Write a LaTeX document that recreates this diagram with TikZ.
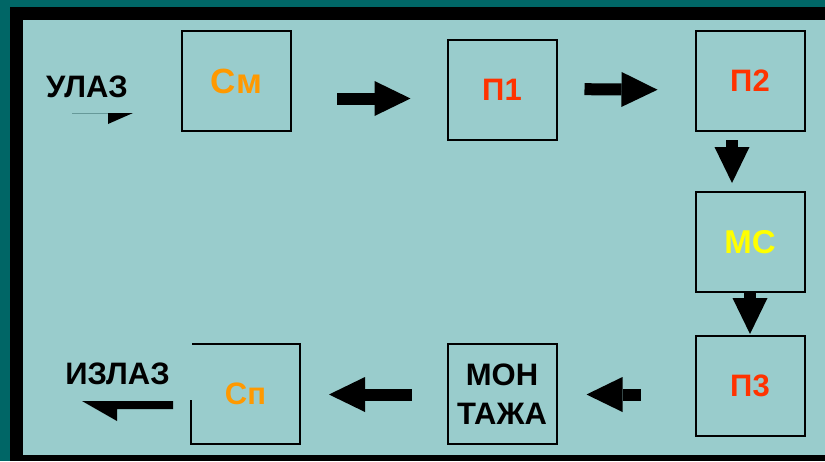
\documentclass[tikz,border=0pt]{standalone}
\usepackage{fontspec}
\setmainfont{Liberation Sans}
\usetikzlibrary{arrows.meta}

\definecolor{okvir}{HTML}{006666}
\definecolor{pozadina}{HTML}{99CCCC}
\definecolor{narandz}{HTML}{FF9900}
\definecolor{crvena}{HTML}{FF3300}
\definecolor{zuta}{HTML}{FFFF00}
\definecolor{linija}{HTML}{669999}

\tikzset{
	kutija/.style = {draw, line width = 2pt, minimum width = 109pt, minimum height = 100pt, inner sep = 0pt, align = center, font = \bfseries\fontsize{31}{39}\selectfont},
	strelica/.style = {line width = 12pt, -{Triangle[width = 35pt, length = 36pt, line width = 0pt]}},
	natpis/.style = {anchor = base, font = \bfseries\fontsize{31}{36}\selectfont}
}

\begin{document}
\begin{tikzpicture}[x = 1pt, y = -1pt]
	 \useasboundingbox (0, 0) rectangle (825, 461);
	 \fill[okvir] (0, 0) rectangle (825, 461);
	 \fill[black] (10, 7) rectangle (825, 461);
	 \fill[pozadina] (23, 20) rectangle (825, 455);
	 
	 \node[kutija, text = narandz, font = \bfseries\fontsize{35}{40}\selectfont] (sm) at (236.5, 81) {См};
	 \node[kutija, text = crvena] (p1) at (502, 89.5) {П1};
	 \node[kutija, text = crvena] (p2) at (750, 81) {П2};
	 \node[kutija, text = zuta, font = \bfseries\fontsize{33}{39}\selectfont] (ms) at (750, 242) {МС};
	 \node[kutija, text = crvena] (p3) at (750, 386) {П3};
	 \node[kutija] (montaza) at (502, 394) {МОН\\ТАЖА};
	 \node[kutija, text = narandz] (sp) at (245.5, 393.5) {Сп};
	 
	 \draw[strelica, shorten <= 45pt, shorten >= 36pt] ([yshift = -17.5pt] sm.east) -- ([yshift = -9pt] p1.west);
	 \draw[strelica, shorten <= 27pt, shorten >= 37pt] ([yshift = 0.5pt] p1.east) -- ([yshift = -9pt] p2.west);
	 \draw[strelica, shorten <= 8pt, shorten >= 8pt] ([xshift = -18pt] p2.south) -- ([xshift = -18pt] ms.north);
	 \draw[strelica, shorten <= 0pt, shorten >= 1pt] (ms.south) -- (p3.north);
	 \draw[strelica, shorten <= 54pt, shorten >= 29pt] ([yshift = -8.5pt] p3.west) -- ([yshift = -0.5pt] montaza.east);
	 \draw[strelica, shorten <= 35pt, shorten >= 28pt] ([yshift = -0.5pt] montaza.west) -- ([yshift = -1pt] sp.east);
	 
	 \fill[pozadina] (60, 342) rectangle (192, 400);
	 
	 \node[natpis] (ulaz) at (87, 97) {УЛАЗ};
	 \node[natpis] (izlaz) at (117.5, 384) {ИЗЛАЗ};
	 
	 \coordinate (ulazpoc) at (72, 113);
	 \draw[linija, line width = 1pt] (ulazpoc) -- ++(36, 0);
	 \fill[black] (108, 113) -- (133, 113) -- (108, 124) -- cycle;
	 
	 \coordinate (izlazkraj) at (82, 401);
	 \fill[black] (izlazkraj) -- (173, 401) -- (173, 409) -- (117, 409) -- (117, 421) -- cycle;
\end{tikzpicture}
\end{document}
